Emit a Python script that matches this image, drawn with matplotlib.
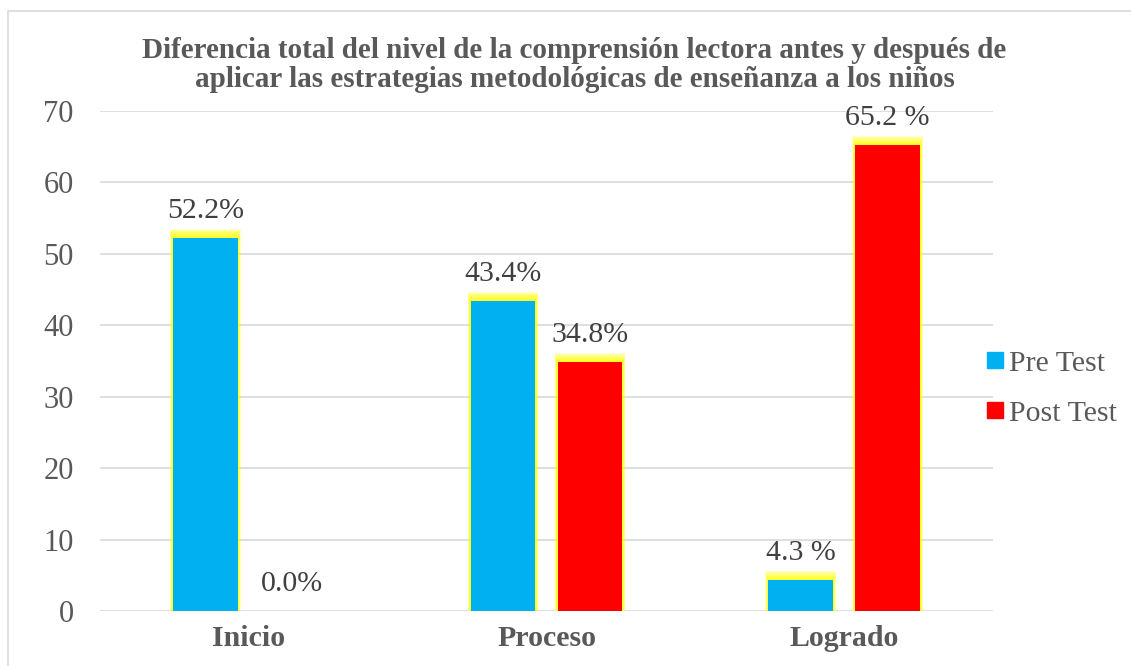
import numpy as np
import matplotlib.pyplot as plt
from matplotlib.patches import Rectangle
from matplotlib.lines import Line2D

plt.rcParams['font.family'] = ['Liberation Serif', 'DejaVu Serif']

categories = ['Inicio', 'Proceso', 'Logrado']
pre_test = [52.2, 43.4, 4.3]
post_test = [0.0, 34.8, 65.2]
pre_labels = ['52.2%', '43.4%', '4.3 %']
post_labels = ['0.0%', '34.8%', '65.2 %']
series_names = ['Pre Test', 'Post Test']
yticks = [0, 10, 20, 30, 40, 50, 60, 70]

title = ('Diferencia total del nivel de la comprensión lectora antes y después de\n'
         'aplicar las estrategias metodológicas de enseñanza a los niños')

blue = '#00b0f0'
red = '#ff0000'
grey_txt = '#595959'

fig = plt.figure(figsize=(11.31, 6.66), dpi=100)
# outer chart frame
fig.patches.append(Rectangle((8 / 1131, -0.01), 1.2, 1 - 11 / 666 + 0.01,
                             transform=fig.transFigure, fill=False,
                             edgecolor='#d9d9d9', linewidth=1.2))

ax = fig.add_axes([100 / 1131, 55 / 666, 893 / 1131, 500 / 666])

x = np.arange(len(categories))
w = 0.218
off = 0.146

def glow_bars(xs, vals):
    # soft yellow glow behind the bars
    for k in range(8, 0, -1):
        for xi, v in zip(xs, vals):
            if v <= 0:
                continue
            ext_y = 0.16 * k
            ext_x = 0.0012 * k
            ax.bar(xi, v + ext_y, width=w + 2 * ext_x, color='#ffff00',
                   alpha=0.2, linewidth=0, zorder=2)

glow_bars(x - off, pre_test)
glow_bars(x + off, post_test)
ax.bar(x - off, pre_test, width=w, color=blue, zorder=3)
ax.bar(x + off, post_test, width=w, color=red, zorder=3)

for xi, v, lab in zip(x - off, pre_test, pre_labels):
    ax.annotate(lab, (xi, v), xytext=(0, 19.5), textcoords='offset points',
                ha='center', va='center', fontsize=21.5, color='#404040', zorder=5)
for xi, v, lab in zip(x + off, post_test, post_labels):
    ax.annotate(lab, (xi, v), xytext=(0, 19.5), textcoords='offset points',
                ha='center', va='center', fontsize=21.5, color='#404040', zorder=5)

ax.set_xlim(-0.5, 2.5)
ax.set_ylim(0, 70)
ax.set_yticks(yticks)
ax.set_xticks(x)
ax.set_xticklabels(categories, fontsize=21.5, fontweight='bold', color=grey_txt)
ax.tick_params(axis='y', labelsize=22, labelcolor=grey_txt, length=0, pad=19)
ax.tick_params(axis='x', length=0, pad=10)
ax.grid(axis='y', color='#d9d9d9', linewidth=1.2, zorder=0)
ax.set_axisbelow(True)
for s in ax.spines.values():
    s.set_visible(False)

fig.text(0.508, 1 - 65 / 666, title, ha='center', va='center', fontsize=21,
         fontweight='bold', color=grey_txt, linespacing=1.1)

handles = [Line2D([], [], marker='s', linestyle='none', markersize=11, color=blue),
           Line2D([], [], marker='s', linestyle='none', markersize=11, color=red)]
fig.legend(handles, series_names, loc='center left', bbox_to_anchor=(0.847, 0.417),
           frameon=False, fontsize=21.5, labelcolor=grey_txt, handletextpad=0.1,
           labelspacing=0.78, handlelength=0.7)

fig.savefig('out.png', dpi=100)
